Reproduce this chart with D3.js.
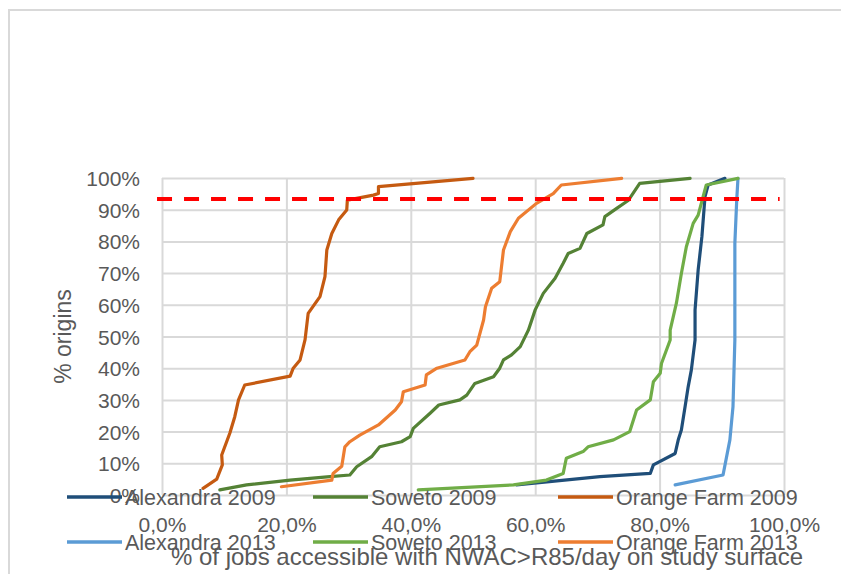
<!DOCTYPE html>
<html>
<head>
<meta charset="utf-8">
<script src="https://cdn.jsdelivr.net/npm/d3@7"></script>
<style>
  body { margin: 0; background: #fff; }
  text { font-family: "Liberation Sans", Arial, sans-serif; fill: #595959; }
</style>
</head>
<body>
<svg id="svg" width="841" height="574"></svg>
<script>
// values: [% of jobs, % origins]
const alexandra2009 = [[57, 3.2], [70.4, 5.8], [78.5, 6.8], [79, 9.5], [82.5, 13.1], [83, 17.4], [83.5, 20.5], [84.1, 27.9], [84.6, 34.2], [85.1, 39.4], [85.7, 48.9], [85.7, 58.4], [86.2, 71], [86.8, 81.5], [87.3, 94.1], [87.8, 97.8], [90.5, 99.9]]
const soweto2009 = [[9.3, 1.6], [13.6, 3.2], [20.6, 4.7], [27, 5.8], [30.2, 6.3], [31.3, 8.9], [33.7, 12.1], [35, 15.2], [38.5, 16.8], [39.9, 18.4], [40.4, 21], [43.1, 25.8], [44.5, 28.4], [47.9, 30], [49, 31.5], [50.3, 35.2], [53.3, 37.3], [54.3, 40], [54.9, 42.6], [56.2, 44.2], [57.6, 46.8], [58.9, 52], [60, 58.4], [61.3, 63.6], [63.2, 68.4], [64.5, 73.1], [65.3, 76.2], [67.2, 77.8], [68.3, 82.5], [70.9, 85.2], [71.2, 87.8], [73.1, 90.4], [75, 93], [76.8, 98.3], [84.9, 99.9]]
const orangeFarm2009 = [[6.6, 2.1], [8.8, 5], [9.7, 9.5], [9.6, 12.6], [10.9, 19.5], [11.7, 24.7], [12.3, 30], [13.3, 34.7], [20.6, 37.5], [21.1, 40], [22.2, 42.6], [23, 49], [23.5, 57.3], [25.4, 62.6], [26.2, 68.9], [26.5, 77.3], [27.3, 82.5], [28.4, 86.8], [29.7, 89.9], [29.8, 93], [34, 94.6], [34.8, 95.1], [34.8, 97.3], [50, 99.9]]
const alexandra2013 = [[82.5, 3.2], [90.2, 6.3], [91.3, 17.4], [91.8, 27.9], [92.1, 48.9], [92.1, 79.4], [92.4, 93], [92.6, 99.9]]
const soweto2013 = [[41.2, 1.6], [56.5, 3.2], [61.8, 4.7], [64.5, 6.8], [65, 11.6], [67.7, 13.7], [68.5, 15.2], [72.6, 17.4], [75.2, 20], [76.3, 26.8], [78.5, 30], [79, 35.7], [80.1, 38.4], [80.3, 41.5], [81.7, 48.9], [81.7, 52], [82.7, 60.5], [83.5, 69.9], [84.3, 78.3], [85.4, 85.7], [86.2, 88.3], [87.5, 97.8], [92.6, 99.9]]
const orangeFarm2013 = [[19.2, 2.6], [27.3, 4.7], [27.5, 6.8], [28.9, 9.1], [29.4, 15.2], [30.2, 16.8], [31.8, 18.9], [34.8, 22.1], [37.5, 26.8], [38.5, 29.4], [38.8, 32.6], [42.3, 34.7], [42.5, 37.9], [44.2, 40], [48.7, 42.6], [49.5, 45.2], [50.6, 47.3], [51.7, 55.2], [52, 59.4], [53, 65.2], [54.3, 67.3], [54.9, 77.3], [56, 83.1], [57.3, 87.3], [60.2, 92], [62.9, 95.1], [64.2, 97.8], [73.9, 99.9]]

const seriesNames = ['Alexandra 2009', 'Soweto 2009', 'Orange Farm 2009', 'Alexandra 2013', 'Soweto 2013', 'Orange Farm 2013']
const seriesData = [alexandra2009, soweto2009, orangeFarm2009, alexandra2013, soweto2013, orangeFarm2013]
const seriesColors = ['#1f4e79', '#548235', '#c55a11', '#5b9bd5', '#70ad47', '#ed7d31']

const xTicks = [0, 20, 40, 60, 80, 100]
const yTicks = [0, 10, 20, 30, 40, 50, 60, 70, 80, 90, 100]
const threshold = 93.4
const thresholdSpan = [-0.8, 99.3]

const xTitle = '% of jobs accessible with NWAC>R85/day on study surface'
const yTitle = '% origins'

const width = 841
const height = 574
const plotLeft = 162
const plotRight = 784
const plotTop = 178
const plotBottom = 495

const svg = d3.select('#svg')

svg.append('rect')
  .attr('x', 9).attr('y', 10)
  .attr('width', width).attr('height', height)
  .attr('fill', '#fff')
  .attr('stroke', '#d9d9d9')
  .attr('stroke-width', 2)

const xScale = d3.scaleLinear().domain([0, 100]).range([plotLeft, plotRight])
const yScale = d3.scaleLinear().domain([0, 100]).range([plotBottom, plotTop])

// gridlines come from the axes
const yAxis = d3.axisLeft(yScale)
  .tickValues(yTicks)
  .tickSize(-(plotRight - plotLeft))
  .tickPadding(22)
  .tickFormat(d => d + '%')

const xAxis = d3.axisBottom(xScale)
  .tickValues(xTicks)
  .tickSize(-(plotBottom - plotTop))
  .tickPadding(22)
  .tickFormat(d => d3.format('.1f')(d).replace('.', ',') + '%')

const gy = svg.append('g')
  .attr('transform', `translate(${plotLeft}, 0)`)
  .call(yAxis)

const gx = svg.append('g')
  .attr('transform', `translate(0, ${plotBottom})`)
  .call(xAxis)

for (const g of [gx, gy]) {
  g.select('.domain').remove()
  g.selectAll('.tick line').attr('stroke', '#d9d9d9').attr('stroke-width', 2)
  g.selectAll('.tick text')
    .attr('fill', '#595959')
    .style('font-size', '21px')
    .style('font-family', '"Liberation Sans", Arial, sans-serif')
}
gy.selectAll('.tick text').attr('dy', '0.36em')
gx.selectAll('.tick text').attr('dy', '0.71em').attr('y', 22)

// series
const line = d3.line()
  .x(d => xScale(d[0]))
  .y(d => yScale(d[1]))

svg.append('g')
  .selectAll('path')
  .data(seriesData)
  .join('path')
  .attr('d', line)
  .attr('fill', 'none')
  .attr('stroke', (d, i) => seriesColors[i])
  .attr('stroke-width', 3.2)
  .attr('stroke-linejoin', 'round')
  .attr('stroke-linecap', 'round')

// red dashed threshold
svg.append('line')
  .attr('x1', xScale(thresholdSpan[0]))
  .attr('x2', xScale(thresholdSpan[1]))
  .attr('y1', yScale(threshold))
  .attr('y2', yScale(threshold))
  .attr('stroke', '#ff0000')
  .attr('stroke-width', 4)
  .attr('stroke-dasharray', '15 12')

// legend, two rows of three
const legendCols = [67, 313, 558]
const legendRows = [497, 542]
const legend = svg.append('g')
  .selectAll('g')
  .data(seriesNames)
  .join('g')
  .attr('transform', (d, i) => `translate(${legendCols[i % 3]}, ${legendRows[Math.floor(i / 3)]})`)

legend.append('line')
  .attr('x1', 0).attr('x2', 55)
  .attr('stroke', (d, i) => seriesColors[i])
  .attr('stroke-width', 3.7)

legend.append('text')
  .attr('x', 58)
  .attr('dy', '0.36em')
  .style('font-size', '21.5px')
  .text(d => d)

// axis titles
svg.append('text')
  .attr('x', 487)
  .attr('y', 565)
  .attr('text-anchor', 'middle')
  .style('font-size', '24px')
  .text(xTitle)

svg.append('text')
  .attr('transform', `translate(71, ${(plotTop + plotBottom) / 2}) rotate(-90)`)
  .attr('text-anchor', 'middle')
  .style('font-size', '23px')
  .text(yTitle)
</script>
</body>
</html>
